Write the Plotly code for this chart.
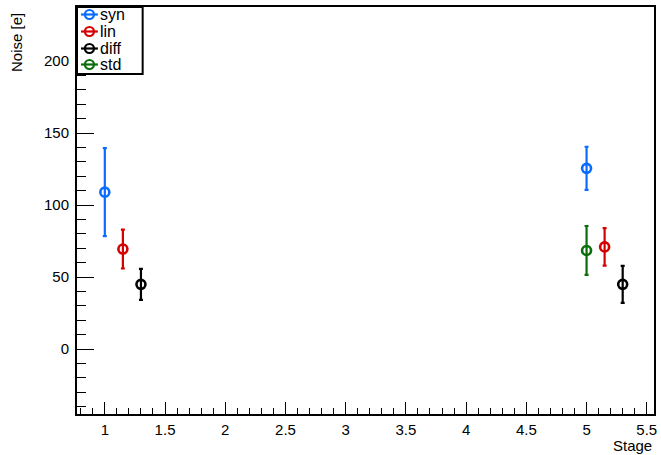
import plotly.graph_objects as go

# ---- data ----
series = ["syn", "lin", "diff", "std"]
colors = {"syn": "#0a6cff", "lin": "#d50000", "diff": "#000000", "std": "#0a6e0a"}
stages = {"syn": [1.0, 5.0], "lin": [1.15, 5.15], "diff": [1.3, 5.3], "std": [5.0]}
noise = {"syn": [109, 125.5], "lin": [69.5, 71], "diff": [45, 45], "std": [68.5]}
noise_err = {"syn": [30.5, 15], "lin": [13.5, 13], "diff": [10.8, 12.8], "std": [17]}

x_range = [0.769, 5.56]
y_range = [-45, 237.5]

W, H = 661, 455
ml, mr, mt, mb = 77, 4, 7, 41
pw, ph = W - ml - mr, H - mt - mb

fig = go.Figure()
for s in series:
    fig.add_trace(go.Scatter(
        x=stages[s], y=noise[s], mode="markers", name=s, showlegend=False,
        marker=dict(symbol="circle-open", size=9, color=colors[s], line=dict(width=2.6, color=colors[s])),
        error_y=dict(type="data", array=noise_err[s], visible=True, color=colors[s], thickness=2.2, width=2),
    ))

font = "Liberation Sans, Arial, sans-serif"
fig.update_layout(
    width=W, height=H, margin=dict(l=ml, r=mr, t=mt, b=mb),
    paper_bgcolor="white", plot_bgcolor="white", showlegend=False,
    font=dict(family=font, size=15, color="black"),
    xaxis=dict(range=x_range, tick0=0, dtick=0.5, ticks="inside", ticklen=12, tickwidth=1.2,
               tickcolor="black", showgrid=False, zeroline=False, showline=True, mirror=True,
               linecolor="black", linewidth=2,
               minor=dict(dtick=0.1, ticks="inside", ticklen=6, tickcolor="black", tickwidth=1.2, showgrid=False),
               tickfont=dict(size=15), ticklabelstandoff=1),
    yaxis=dict(range=y_range, tick0=0, dtick=50, ticks="inside", ticklen=17, tickwidth=1.2,
               tickcolor="black", showgrid=False, zeroline=False, showline=True, mirror=True,
               linecolor="black", linewidth=2,
               minor=dict(dtick=10, ticks="inside", ticklen=9, tickcolor="black", tickwidth=1.2, showgrid=False),
               tickfont=dict(size=15), ticklabelstandoff=3),
)

# axis titles (ROOT style: at the ends of the axes)
fig.add_annotation(text="Stage", xref="paper", yref="paper", x=1, y=0, xanchor="right", yanchor="top",
                   yshift=-21, showarrow=False, font=dict(size=15))
fig.add_annotation(text="Noise [e]", xref="paper", yref="paper", x=0, y=1, xanchor="right", yanchor="top",
                   xshift=-50, yshift=-4, textangle=-90, showarrow=False, font=dict(size=15))

# legend box (ROOT TLegend style)
def px_to_paper_x(px):
    return (px - ml) / pw

def px_to_paper_y(py):
    return 1 - (py - mt) / ph

box = dict(x0=77, x1=143, y0=7, y1=74)
fig.add_shape(type="rect", xref="paper", yref="paper",
              x0=px_to_paper_x(box["x0"]), x1=px_to_paper_x(box["x1"]),
              y0=px_to_paper_y(box["y1"]), y1=px_to_paper_y(box["y0"]),
              line=dict(color="black", width=2), fillcolor="white", layer="above")
entry_y = [14.5, 31.5, 48.5, 64.5]
for s, ey in zip(series, entry_y):
    yp = px_to_paper_y(ey)
    fig.add_shape(type="line", xref="paper", yref="paper",
                  x0=px_to_paper_x(81), x1=px_to_paper_x(98), y0=yp, y1=yp,
                  line=dict(color=colors[s], width=2.2), layer="above")
    fig.add_shape(type="circle", xref="paper", yref="paper", xsizemode="pixel", ysizemode="pixel",
                  xanchor=px_to_paper_x(89.5), yanchor=yp, x0=-4.5, x1=4.5, y0=-4.5, y1=4.5,
                  line=dict(color=colors[s], width=2.2), fillcolor="rgba(0,0,0,0)", layer="above")
    fig.add_annotation(text=s, xref="paper", yref="paper", x=px_to_paper_x(99), y=yp,
                       xanchor="left", yanchor="middle", showarrow=False, font=dict(size=16),
                       borderpad=0)

fig.write_html("out.html", config={"displayModeBar": False},
               post_script="document.body.style.margin='0';document.body.style.overflow='hidden';")
